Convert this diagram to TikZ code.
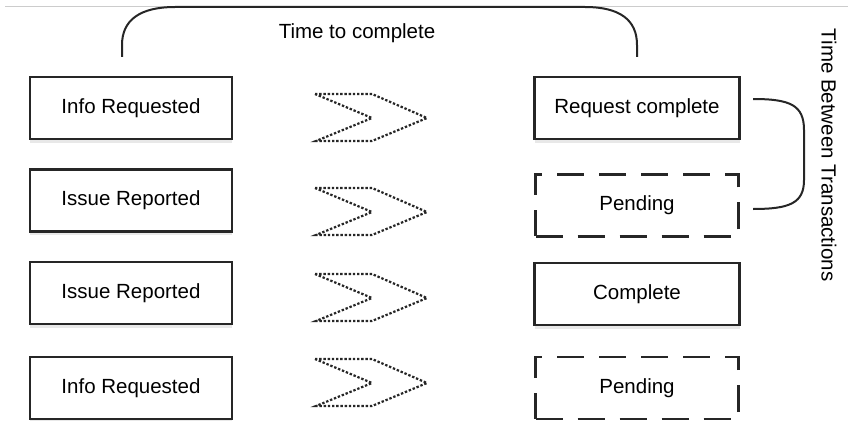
\documentclass[tikz,border=0pt]{standalone}
\usepackage{fontspec}
\setmainfont{Liberation Sans}
\usepackage{tikz}
\usetikzlibrary{positioning,shadows}

\begin{document}
\begin{tikzpicture}[x=1pt, y=-1pt,
  stepbox/.style={draw=black!85, fill=white, line width=2.4pt, minimum width=202pt, minimum height=62pt, inner sep=0pt, font=\fontsize{20.5}{24}\selectfont, drop shadow={opacity=0.18, shadow xshift=0pt, shadow yshift=-4pt}},
  pendbox/.style={draw=black!85, fill=white, line width=2.4pt, minimum width=203pt, minimum height=62pt, inner sep=0pt, font=\fontsize{20.5}{24}\selectfont, dash pattern=on 27pt off 15pt},
  chevron/.style={draw=black!85, line width=2.2pt, dash pattern=on 2.4pt off 1.8pt, line join=miter},
  bracket/.style={draw=black!85, line width=2pt},
  label/.style={font=\fontsize{20.5}{24}\selectfont}
]
\useasboundingbox (0,0) rectangle (848,420);
\draw[black!20, line width=1pt] (5,7) -- (848,7);

% left column
\node[stepbox] (info1) at (131,108) {Info Requested};
\node[stepbox, below=28pt of info1] (issue2) {Issue Reported};
\node[stepbox, below=28pt of issue2] (issue3) {Issue Reported};
\node[stepbox, below=31pt of issue3] (info4) {Info Requested};

% right column
\node[stepbox, minimum width=205pt] (done1) at (637,108) {Request complete};
\node[pendbox, below=33pt of done1] (pend2) {Pending};
\node[stepbox, minimum width=205pt, below=24pt of pend2] (done3) {Complete};
\node[pendbox, below=30pt of done3] (pend4) {Pending};

% chevrons
\foreach \y/\n in {94/a,188/b,274/c,359/d}{
  \coordinate (chev\n) at (315,\y);
  \draw[chevron] (chev\n) -- ++(57,0) -- ++(55,24) -- ++(-55,23) -- ++(-56,0) -- ++(56,-23) -- cycle;
}

% time to complete
\coordinate (tcl) at (122,57);
\coordinate (tcr) at (637,57);
\draw[bracket] (tcl) -- ++(0,-12) .. controls (122,20) and (140,7) .. (175,7) -- (585,7) .. controls (620,7) and (637,20) .. (637,45) -- (tcr);
\node[label] (ttc) at (357,33) {Time to complete};

% time between transactions
\coordinate (tbt1) at (753,99);
\coordinate (tbt2) at (753,209);
\draw[bracket] (tbt1) .. controls (790,99) and (804,105) .. (804,130) -- (804,180) .. controls (804,203) and (790,209) .. (tbt2);
\node[label, rotate=-90] (tbt) at (829,155) {Time Between Transactions};
\end{tikzpicture}
\end{document}
